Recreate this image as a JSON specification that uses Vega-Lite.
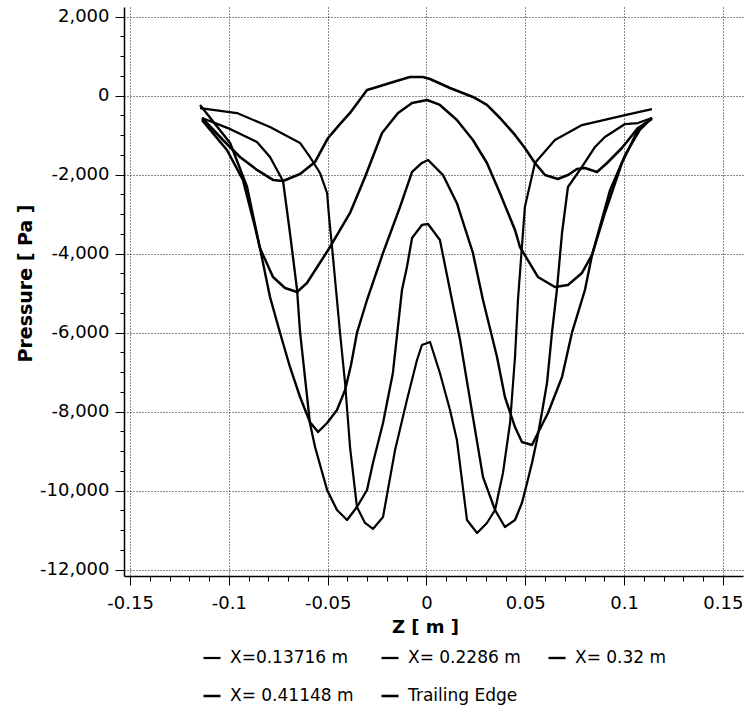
{
 "$schema": "https://vega.github.io/schema/vega-lite/v6.json",
 "width": 619,
 "height": 569,
 "autosize": {"type": "none"},
 "padding": {"left": 124, "top": 7, "right": 4, "bottom": 131},
 "background": "white",
 "config": {"view": {"stroke": null}, "font": "DejaVu Sans"},
 "datasets": {
  "A": [
   {"z":-0.1136,"p":-565},{"z":-0.1030,"p":-1122},{"z":-0.0944,"p":-1552},{"z":-0.0858,"p":-1881},{"z":-0.0777,"p":-2134},{"z":-0.0726,"p":-2160},{"z":-0.0640,"p":-1982},{"z":-0.0564,"p":-1679},{"z":-0.0498,"p":-1071},{"z":-0.0438,"p":-719},{"z":-0.0387,"p":-438},{"z":-0.0301,"p":144},{"z":-0.0250,"p":220},{"z":-0.0185,"p":322},{"z":-0.0084,"p":473},{"z":-0.0018,"p":473},{"z":0.0018,"p":423},{"z":0.0119,"p":195},{"z":0.0235,"p":-33},{"z":0.0306,"p":-235},{"z":0.0372,"p":-565},{"z":0.0448,"p":-995},{"z":0.0498,"p":-1324},{"z":0.0549,"p":-1704},{"z":0.0600,"p":-2008},{"z":0.0665,"p":-2109},{"z":0.0716,"p":-2008},{"z":0.0762,"p":-1856},{"z":0.0802,"p":-1831},{"z":0.0863,"p":-1932},{"z":0.0914,"p":-1704},{"z":0.0989,"p":-1324},{"z":0.1070,"p":-818},{"z":0.1141,"p":-590}
  ],
  "B": [
   {"z":-0.1136,"p":-618},{"z":-0.1010,"p":-1375},{"z":-0.0929,"p":-2134},{"z":-0.0868,"p":-3324},{"z":-0.0843,"p":-3856},{"z":-0.0777,"p":-4590},{"z":-0.0716,"p":-4869},{"z":-0.0655,"p":-4970},{"z":-0.0605,"p":-4742},{"z":-0.0488,"p":-3831},{"z":-0.0387,"p":-2970},{"z":-0.0311,"p":-2058},{"z":-0.0225,"p":-944},{"z":-0.0144,"p":-438},{"z":-0.0073,"p":-185},{"z":0.0003,"p":-109},{"z":0.0068,"p":-235},{"z":0.0154,"p":-615},{"z":0.0235,"p":-1122},{"z":0.0306,"p":-1704},{"z":0.0372,"p":-2469},{"z":0.0448,"p":-3400},{"z":0.0473,"p":-3831},{"z":0.0564,"p":-4590},{"z":0.0650,"p":-4844},{"z":0.0716,"p":-4793},{"z":0.0787,"p":-4489},{"z":0.0838,"p":-4033},{"z":0.0903,"p":-2970},{"z":0.0989,"p":-1704},{"z":0.1070,"p":-869},{"z":0.1141,"p":-565}
  ],
  "C": [
   {"z":-0.1146,"p":-236},{"z":-0.0994,"p":-1198},{"z":-0.0908,"p":-2312},{"z":-0.0843,"p":-3856},{"z":-0.0792,"p":-5097},{"z":-0.0741,"p":-6008},{"z":-0.0691,"p":-6869},{"z":-0.0640,"p":-7629},{"z":-0.0590,"p":-8262},{"z":-0.0549,"p":-8515},{"z":-0.0503,"p":-8287},{"z":-0.0453,"p":-7958},{"z":-0.0412,"p":-7451},{"z":-0.0382,"p":-6819},{"z":-0.0352,"p":-6008},{"z":-0.0301,"p":-5173},{"z":-0.0220,"p":-3983},{"z":-0.0134,"p":-2818},{"z":-0.0073,"p":-1932},{"z":-0.0023,"p":-1704},{"z":0.0008,"p":-1628},{"z":0.0084,"p":-2013},{"z":0.0154,"p":-2722},{"z":0.0235,"p":-3983},{"z":0.0286,"p":-5173},{"z":0.0357,"p":-6616},{"z":0.0397,"p":-7629},{"z":0.0448,"p":-8389},{"z":0.0483,"p":-8768},{"z":0.0534,"p":-8844},{"z":0.0564,"p":-8540},{"z":0.0615,"p":-8034},{"z":0.0686,"p":-7123},{"z":0.0736,"p":-6008},{"z":0.0802,"p":-4920},{"z":0.0838,"p":-4033},{"z":0.0929,"p":-2393},{"z":0.1005,"p":-1506},{"z":0.1080,"p":-869},{"z":0.1141,"p":-565}
  ],
  "D": [
   {"z":-0.1136,"p":-565},{"z":-0.1005,"p":-820},{"z":-0.0858,"p":-1172},{"z":-0.0792,"p":-1552},{"z":-0.0726,"p":-2160},{"z":-0.0691,"p":-3477},{"z":-0.0655,"p":-4920},{"z":-0.0640,"p":-5983},{"z":-0.0590,"p":-8287},{"z":-0.0564,"p":-8895},{"z":-0.0503,"p":-9984},{"z":-0.0453,"p":-10490},{"z":-0.0402,"p":-10743},{"z":-0.0352,"p":-10414},{"z":-0.0301,"p":-9984},{"z":-0.0271,"p":-9300},{"z":-0.0220,"p":-8287},{"z":-0.0170,"p":-7021},{"z":-0.0124,"p":-4920},{"z":-0.0099,"p":-4337},{"z":-0.0073,"p":-3603},{"z":-0.0023,"p":-3274},{"z":0.0008,"p":-3249},{"z":0.0068,"p":-3654},{"z":0.0129,"p":-5173},{"z":0.0170,"p":-6186},{"z":0.0235,"p":-8136},{"z":0.0286,"p":-9655},{"z":0.0347,"p":-10490},{"z":0.0397,"p":-10920},{"z":0.0448,"p":-10743},{"z":0.0483,"p":-10313},{"z":0.0509,"p":-9807},{"z":0.0534,"p":-9300},{"z":0.0559,"p":-8718},{"z":0.0584,"p":-8034},{"z":0.0610,"p":-7275},{"z":0.0635,"p":-6008},{"z":0.0660,"p":-4920},{"z":0.0686,"p":-3477},{"z":0.0716,"p":-2312},{"z":0.0787,"p":-1805},{"z":0.0853,"p":-1299},{"z":0.0903,"p":-1046},{"z":0.1005,"p":-719},{"z":0.1070,"p":-693},{"z":0.1141,"p":-565}
  ],
  "E": [
   {"z":-0.1146,"p":-314},{"z":-0.0959,"p":-441},{"z":-0.0792,"p":-793},{"z":-0.0640,"p":-1198},{"z":-0.0590,"p":-1552},{"z":-0.0539,"p":-1957},{"z":-0.0503,"p":-2469},{"z":-0.0493,"p":-3077},{"z":-0.0478,"p":-3831},{"z":-0.0453,"p":-5173},{"z":-0.0438,"p":-5983},{"z":-0.0412,"p":-7275},{"z":-0.0387,"p":-8895},{"z":-0.0352,"p":-10414},{"z":-0.0311,"p":-10819},{"z":-0.0271,"p":-10971},{"z":-0.0220,"p":-10667},{"z":-0.0159,"p":-8971},{"z":-0.0099,"p":-7705},{"z":-0.0048,"p":-6692},{"z":-0.0023,"p":-6312},{"z":0.0018,"p":-6236},{"z":0.0068,"p":-7021},{"z":0.0119,"p":-7958},{"z":0.0154,"p":-8718},{"z":0.0205,"p":-10743},{"z":0.0256,"p":-11072},{"z":0.0306,"p":-10819},{"z":0.0347,"p":-10490},{"z":0.0387,"p":-9553},{"z":0.0423,"p":-8287},{"z":0.0448,"p":-6616},{"z":0.0463,"p":-5173},{"z":0.0498,"p":-2818},{"z":0.0549,"p":-1704},{"z":0.0650,"p":-1122},{"z":0.0787,"p":-744},{"z":0.1005,"p":-491},{"z":0.1141,"p":-339}
  ]
 },
 "layer": [
  {"data": {"name": "E"}, "transform": [{"calculate": "'X=0.13716 m'", "as": "s"}], "mark": {"type": "line", "strokeJoin": "round"}, "encoding": {}},
  {"data": {"name": "D"}, "transform": [{"calculate": "'X= 0.2286 m'", "as": "s"}], "mark": {"type": "line", "strokeJoin": "round"}, "encoding": {}},
  {"data": {"name": "C"}, "transform": [{"calculate": "'X= 0.32 m'", "as": "s"}], "mark": {"type": "line", "strokeJoin": "round"}, "encoding": {}},
  {"data": {"name": "B"}, "transform": [{"calculate": "'X= 0.41148 m'", "as": "s"}], "mark": {"type": "line", "strokeJoin": "round"}, "encoding": {}},
  {"data": {"name": "A"}, "transform": [{"calculate": "'Trailing Edge'", "as": "s"}], "mark": {"type": "line", "strokeJoin": "round"}, "encoding": {}}
 ],
 "encoding": {
  "x": {
   "field": "z", "type": "quantitative",
   "scale": {"domain": [-0.1531, 0.1602], "nice": false, "zero": false},
   "axis": {
    "title": "Z [ m ]",
    "values": [-0.15,-0.14,-0.13,-0.12,-0.11,-0.1,-0.09,-0.08,-0.07,-0.06,-0.05,-0.04,-0.03,-0.02,-0.01,0,0.01,0.02,0.03,0.04,0.05,0.06,0.07,0.08,0.09,0.1,0.11,0.12,0.13,0.14,0.15],
    "labelExpr": "abs(datum.value*20 - round(datum.value*20)) < 0.001 ? replace(format(datum.value, '~g'), '\u2212', '-') : ''",
    "tickSize": {"condition": {"test": "abs(datum.value*20 - round(datum.value*20)) < 0.001", "value": 9}, "value": 5},
    "gridOpacity": {"condition": {"test": "abs(datum.value*20 - round(datum.value*20)) < 0.001", "value": 0.9}, "value": 0},
    "grid": true, "gridColor": "#000", "gridDash": [1, 2], "gridWidth": 1,
    "domainColor": "#000", "domainWidth": 1.5, "tickColor": "#000", "tickWidth": 1,
    "labelFont": "DejaVu Sans", "labelFontSize": 18, "labelColor": "#000", "labelPadding": 9,
    "labelFlush": false, "labelOverlap": false,
    "titleFont": "DejaVu Sans", "titleFontSize": 18, "titleFontWeight": "bold", "titleColor": "#000",
    "titleX": 301, "titleY": 51, "titleBaseline": "middle"
   }
  },
  "y": {
   "field": "p", "type": "quantitative",
   "scale": {"domain": [-12161, 2245], "nice": false, "zero": false},
   "axis": {
    "title": "Pressure [ Pa ]",
    "values": [-12000,-11500,-11000,-10500,-10000,-9500,-9000,-8500,-8000,-7500,-7000,-6500,-6000,-5500,-5000,-4500,-4000,-3500,-3000,-2500,-2000,-1500,-1000,-500,0,500,1000,1500,2000],
    "labelExpr": "datum.value % 2000 === 0 ? replace(format(datum.value, ','), '\u2212', '-') : ''",
    "tickSize": {"condition": {"test": "datum.value % 2000 === 0", "value": 9}, "value": 4},
    "gridOpacity": {"condition": {"test": "datum.value % 2000 === 0", "value": 0.9}, "value": 0},
    "grid": true, "gridColor": "#000", "gridDash": [1, 2], "gridWidth": 1,
    "domainColor": "#000", "domainWidth": 1.5, "tickColor": "#000", "tickWidth": 1,
    "labelFont": "DejaVu Sans", "labelFontSize": 18, "labelColor": "#000", "labelPadding": 6,
    "labelFlush": false, "labelOverlap": false,
    "titleFont": "DejaVu Sans", "titleFontSize": 19, "titleFontWeight": "bold", "titleColor": "#000",
    "titleX": -99, "titleY": 276, "titleBaseline": "middle"
   }
  },
  "color": {
   "field": "s", "type": "nominal",
   "scale": {"domain": ["X=0.13716 m", "X= 0.2286 m", "X= 0.32 m", "X= 0.41148 m", "Trailing Edge"], "range": ["#000", "#000", "#000", "#000", "#000"]},
   "legend": {
    "title": null, "orient": "none", "legendX": 78, "legendY": 641,
    "direction": "horizontal", "columns": 3,
    "symbolType": "stroke", "symbolStrokeWidth": 2, "symbolSize": 289,
    "labelFont": "DejaVu Sans", "labelFontSize": 17, "labelColor": "#000",
    "labelOffset": 8, "columnPadding": 22, "rowPadding": 20, "labelLimit": 300
   }
  },
  "strokeWidth": {
   "field": "s", "type": "ordinal",
   "scale": {"domain": ["X=0.13716 m", "X= 0.2286 m", "X= 0.32 m", "X= 0.41148 m", "Trailing Edge"], "range": [2.2, 2.6, 1.3, 1.3, 2.6]},
   "legend": null
  }
 }
}
